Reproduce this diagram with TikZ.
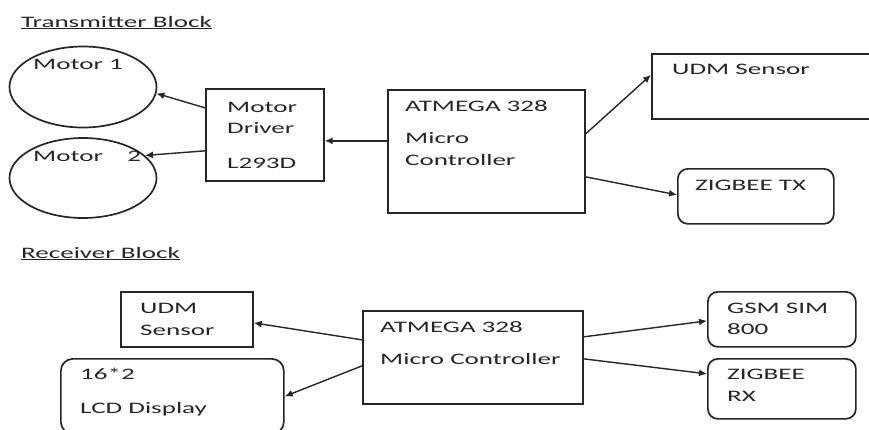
\documentclass[tikz,border=0pt]{standalone}
\usepackage{fontspec}
\setmainfont{Carlito}[FakeStretch=1.69]
\usetikzlibrary{shapes.geometric,arrows.meta}
\begin{document}
\begin{tikzpicture}[x=1pt,y=-1pt,
  every node/.style={font=\fontsize{16}{19}\selectfont, text=black!85},
  lbl/.style={anchor=base west, inner sep=0pt},
  box/.style={draw=black!85, line width=1.7pt, anchor=north west, inner sep=0pt, minimum width=#1},
  rbox/.style={box=#1, rounded corners=10pt},
  oval/.style={draw=black!85, line width=1.7pt, ellipse, inner sep=0pt},
  conn/.style={draw=black!85, line width=1.4pt, -{Latex[length=8pt,width=7pt]}}]
\clip (0,0) rectangle (869,429);
\fill[white] (0,0) rectangle (869,429);

% titles
\node[lbl] (ttx) at (21,27) {\underline{Transmitter Block}};
\node[lbl] (trx) at (21,258) {\underline{Receiver Block}};

% transmitter shapes
\node[oval, minimum width=147pt, minimum height=81pt] (mot1) at (83,87) {};
\node[oval, minimum width=147pt, minimum height=80pt] (mot2) at (83,178) {};
\node[box=118pt, minimum height=92pt] (drv) at (205,88) {};
\node[box=197pt, minimum height=123pt] (mcu1) at (387,89) {};
\node[box=240pt, minimum height=65pt] (udm1) at (651,53) {};
\node[rbox=156pt, minimum height=55pt] (zbt) at (677,168) {};

% transmitter texts
\node[lbl] (tm1) at (33,69) {Motor 1};
\node[lbl] (tm2) at (33,161) {Motor~~~~2};
\node[lbl] (td1) at (227,112) {Motor};
\node[lbl] (td2) at (227,133) {Driver};
\node[lbl] (td3) at (227,168) {L293D};
\node[lbl] (ta1) at (405,111) {ATMEGA 328};
\node[lbl] (ta2) at (405,143) {Micro};
\node[lbl] (ta3) at (405,165) {Controller};
\node[lbl] (tu1) at (672,74) {UDM Sensor};
\node[lbl] (tz1) at (695,190) {ZIGBEE TX};

% receiver shapes
\node[box=132pt, minimum height=55pt] (udm2) at (120,291) {};
\node[box=223pt, minimum height=75pt, rounded corners=12pt] (lcd) at (60,358) {};
\node[box=220pt, minimum height=93pt] (mcu2) at (362,310) {};
\node[rbox=148pt, minimum height=55pt] (gsm) at (707,291) {};
\node[rbox=148pt, minimum height=60pt] (zbr) at (707,358) {};

% receiver texts
\node[lbl] (ru1) at (140,313) {UDM};
\node[lbl] (ru2) at (140,335) {Sensor};
\node[lbl] (rl1) at (80,379) {16*2};
\node[lbl] (rl2) at (80,413) {LCD Display};
\node[lbl] (ra1) at (380,332) {ATMEGA 328};
\node[lbl] (ra2) at (380,364) {Micro Controller};
\node[lbl] (rg1) at (727,313) {GSM SIM};
\node[lbl] (rg2) at (727,334) {800};
\node[lbl] (rz1) at (727,379) {ZIGBEE};
\node[lbl] (rz2) at (727,401) {RX};

% transmitter connectors
\draw[conn] ([yshift=10.5pt]mcu1.west) -- ([yshift=-6pt]drv.east);
\draw[conn] ([yshift=27pt]drv.west) -- (mot1.-5);
\draw[conn] ([yshift=-16pt]drv.west) -- (mot2.20);
\draw[conn] ([yshift=17.5pt]mcu1.east) -- ([yshift=11.5pt]udm1.west);
\draw[conn] ([yshift=-25.5pt]mcu1.east) -- ([yshift=1.5pt]zbt.west);

% receiver connectors
\draw[conn] ([yshift=17.5pt]mcu2.west) -- ([yshift=-3.5pt]udm2.east);
\draw[conn] ([yshift=-8.5pt]mcu2.west) -- (lcd.east);
\draw[conn] ([yshift=20.5pt]mcu2.east) -- ([yshift=-1.5pt]gsm.west);
\draw[conn] ([yshift=-1.5pt]mcu2.east) -- ([yshift=15pt]zbr.west);
\end{tikzpicture}
\end{document}
